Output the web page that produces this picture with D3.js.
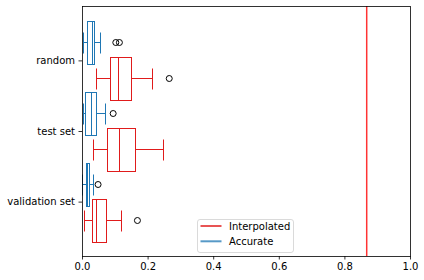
<!DOCTYPE html>
<html>
<head>
<meta charset="utf-8">
<script src="https://cdn.jsdelivr.net/npm/d3@7"></script>
<style>
  body { margin: 0; background: #fff; }
  svg { font-family: "DejaVu Sans", sans-serif; }
</style>
</head>
<body>
<div id="chart"></div>
<script>
// DATA
const categories = ["random", "test set", "validation set"];
// five-number summaries: [lower whisker, q1, median, q3, upper whisker]
const interpolatedStats = [
    [0.042, 0.086, 0.111, 0.150, 0.214],
    [0.034, 0.077, 0.114, 0.163, 0.248],
    [0.007, 0.031, 0.044, 0.074, 0.120]
];
const interpolatedOutliers = [[0.266], [], [0.169]];
const accurateStats = [
    [0.003, 0.016, 0.031, 0.038, 0.056],
    [0.003, 0.010, 0.028, 0.044, 0.071],
    [0.001, 0.011, 0.014, 0.022, 0.035]
];
const accurateOutliers = [[0.103, 0.114], [0.095], [0.049]];
const refLine = 0.868;
const xTicks = [0, 0.2, 0.4, 0.6, 0.8, 1.0];
const seriesNames = ["Interpolated", "Accurate"];

// SVG
const width = 424, height = 280;
const plot = { left: 82, right: 410, top: 6, bottom: 256 };
const red = "#e01b1b", blue = "#1f77b4";

const svg = d3.select("#chart")
    .append("svg")
    .attr("width", width)
    .attr("height", height);

// SCALES
const xs = d3.scaleLinear().domain([0, 1]).range([plot.left, plot.right]);
const ys = d3.scalePoint().domain(categories).range([plot.top, plot.bottom]).padding(0.77);
const step = ys.step();
const boxH = 0.6 * step;
const offset = 0.255 * step;

// red reference line
svg.append("line")
    .attr("x1", xs(refLine)).attr("x2", xs(refLine))
    .attr("y1", plot.top).attr("y2", plot.bottom)
    .attr("stroke", "#ff3333")
    .attr("stroke-width", 1.5);

// DRAW BOXES
function drawBoxes(stats, outliers, color, sign) {
    const g = svg.append("g").attr("stroke", color).attr("fill", "none").attr("stroke-width", 1);
    stats.forEach((s, i) => {
        const c = Math.round(ys(categories[i]) + sign * offset) + 0.5;
        const top = Math.round(c - boxH / 2) + 0.5, bot = Math.round(c + boxH / 2) + 0.5;
        const px = s.map(v => Math.round(xs(v)) + 0.5);
        const capT = Math.round(c - boxH / 4) + 0.5, capB = Math.round(c + boxH / 4) + 0.5;
        // whiskers
        g.append("line").attr("x1", px[0]).attr("x2", px[1]).attr("y1", c).attr("y2", c);
        g.append("line").attr("x1", px[3]).attr("x2", px[4]).attr("y1", c).attr("y2", c);
        // caps
        g.append("line").attr("x1", px[0]).attr("x2", px[0]).attr("y1", capT).attr("y2", capB);
        g.append("line").attr("x1", px[4]).attr("x2", px[4]).attr("y1", capT).attr("y2", capB);
        // box
        g.append("rect").attr("x", px[1]).attr("y", top)
            .attr("width", px[3] - px[1]).attr("height", bot - top);
        // median
        g.append("line").attr("x1", px[2]).attr("x2", px[2]).attr("y1", top).attr("y2", bot);
        // fliers
        outliers[i].forEach(o => {
            svg.append("circle")
                .attr("cx", xs(o)).attr("cy", c).attr("r", 3)
                .attr("fill", "none").attr("stroke", "#000").attr("stroke-width", 1);
        });
    });
}
drawBoxes(accurateStats, accurateOutliers, blue, -1);
drawBoxes(interpolatedStats, interpolatedOutliers, red, 1);

// AXES
const xAxis = svg.append("g")
    .attr("transform", `translate(0,${plot.bottom})`)
    .call(d3.axisBottom(xs).tickValues(xTicks).tickFormat(d3.format(".1f")).tickSize(3.5).tickPadding(3.5));
const yAxis = svg.append("g")
    .attr("transform", `translate(${plot.left},0)`)
    .call(d3.axisLeft(ys).tickSize(3.5).tickPadding(3.5));
[xAxis, yAxis].forEach(a => {
    a.select(".domain").remove();
    a.selectAll("text").attr("font-size", 10).attr("font-family", "DejaVu Sans").attr("fill", "#000");
    a.selectAll("line").attr("stroke", "#000").attr("stroke-width", 0.8);
});

// frame
svg.append("rect")
    .attr("x", plot.left + 0.5).attr("y", plot.top + 0.5)
    .attr("width", plot.right - plot.left).attr("height", plot.bottom - plot.top)
    .attr("fill", "none").attr("stroke", "#000").attr("stroke-width", 0.8);

// LEGEND
const legend = svg.append("g").attr("transform", "translate(197.5,219.5)");
legend.append("rect")
    .attr("width", 96).attr("height", 33).attr("rx", 2.5)
    .attr("fill", "#fff").attr("fill-opacity", 0.8)
    .attr("stroke", "#d0d0d0").attr("stroke-width", 0.8);
[red, blue].forEach((col, i) => {
    legend.append("line")
        .attr("x1", 3).attr("x2", 24)
        .attr("y1", 6.5 + i * 15.3).attr("y2", 6.5 + i * 15.3)
        .attr("stroke", col).attr("stroke-width", 2).attr("stroke-opacity", 0.75);
    legend.append("text")
        .attr("x", 31.5).attr("y", 6.5 + i * 15.3)
        .attr("dy", "0.35em")
        .attr("font-size", 10).attr("fill", "#000")
        .text(seriesNames[i]);
});
</script>
</body>
</html>
